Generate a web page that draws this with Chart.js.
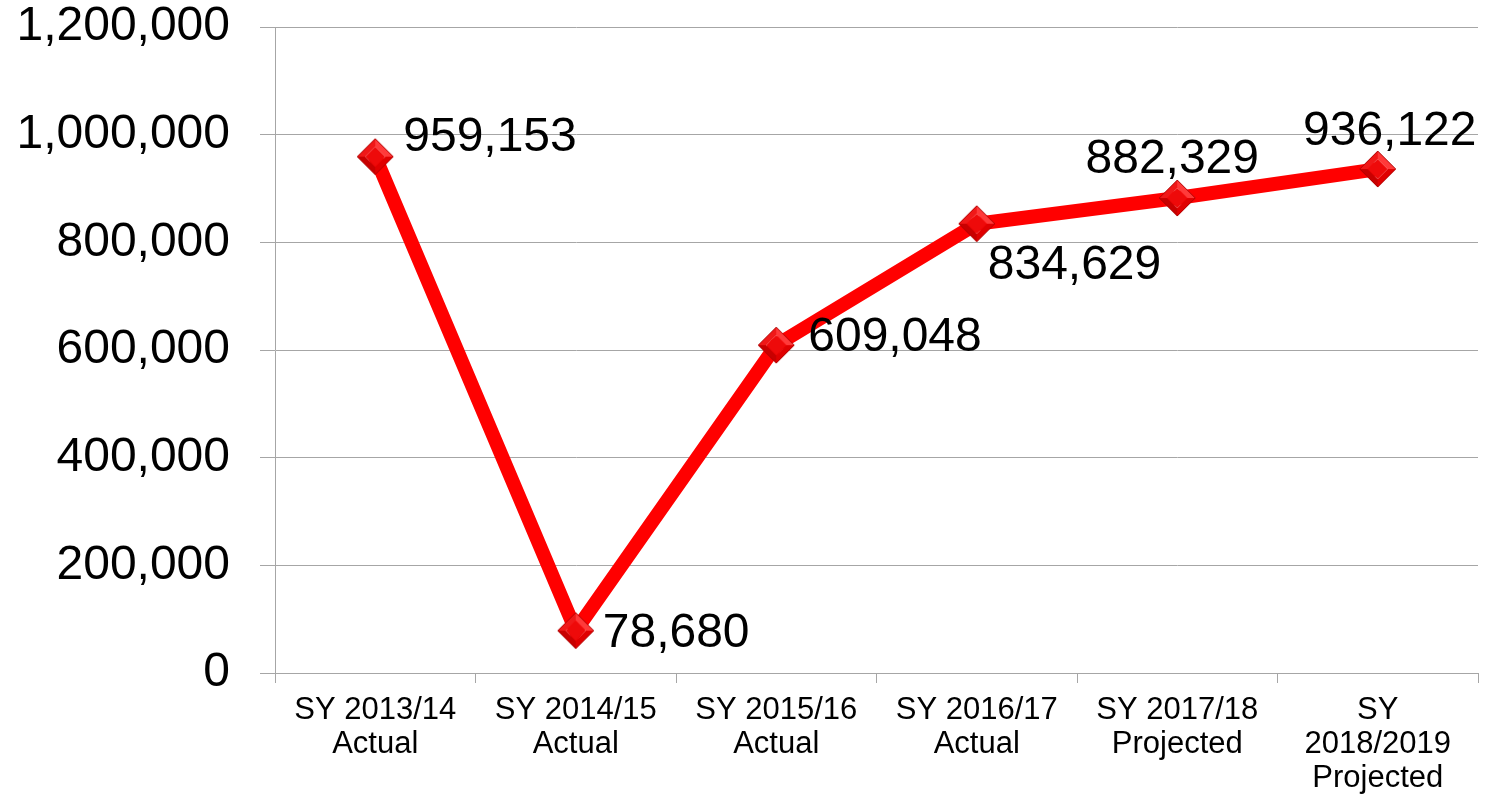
<!DOCTYPE html>
<html>
<head>
<meta charset="utf-8">
<script src="https://cdn.jsdelivr.net/npm/chart.js@4/dist/chart.umd.min.js"></script>
<style>
  html, body { margin: 0; padding: 0; background: #fff; }
  #wrap { width: 1488px; height: 799px; }
</style>
</head>
<body>
<div id="wrap"><canvas id="lineChart"></canvas></div>
<script>
// --- data ---
const categories = [
    ['SY 2013/14', 'Actual'],
    ['SY 2014/15', 'Actual'],
    ['SY 2015/16', 'Actual'],
    ['SY 2016/17', 'Actual'],
    ['SY 2017/18', 'Projected'],
    ['SY', '2018/2019', 'Projected']
];
const enrollment = [959153, 78680, 609048, 834629, 882329, 936122];
const yTicks = [0, 200000, 400000, 600000, 800000, 1000000, 1200000];

// where each value label sits relative to its point (dx, dy, align)
const labelPlacement = [
    { dx: 28, dy: -19, align: 'left' },
    { dx: 27, dy: 3, align: 'left' },
    { dx: 32, dy: -7, align: 'left' },
    { dx: 11, dy: 42, align: 'left' },
    { dx: -5, dy: -38, align: 'center' },
    { dx: 12, dy: -37, align: 'center' }
];

const gridColor = '#a6a6a6';
const mainFont = "'Liberation Sans', Arial, sans-serif";

// --- beveled diamond marker ---
function makeDiamond(r) {
    const c = document.createElement('canvas');
    c.width = c.height = r * 2 + 2;
    const g = c.getContext('2d');
    const m = r + 1;
    const inner = r * 0.55;
    const outer = [[m, m - r], [m + r, m], [m, m + r], [m - r, m]];
    const inn = [[m, m - inner], [m + inner, m], [m, m + inner], [m - inner, m]];
    const facets = ['#ff3a3a', '#e00000', '#c80000', '#f01818'];
    for (let i = 0; i < 4; i++) {
        const j = (i + 1) % 4;
        g.beginPath();
        g.moveTo(outer[i][0], outer[i][1]);
        g.lineTo(outer[j][0], outer[j][1]);
        g.lineTo(inn[j][0], inn[j][1]);
        g.lineTo(inn[i][0], inn[i][1]);
        g.closePath();
        g.fillStyle = facets[i];
        g.fill();
    }
    g.beginPath();
    inn.forEach((p, i) => i ? g.lineTo(p[0], p[1]) : g.moveTo(p[0], p[1]));
    g.closePath();
    g.fillStyle = '#ee0a0a';
    g.fill();
    g.beginPath();
    outer.forEach((p, i) => i ? g.lineTo(p[0], p[1]) : g.moveTo(p[0], p[1]));
    g.closePath();
    g.strokeStyle = '#b00000';
    g.lineWidth = 1;
    g.stroke();
    return c;
}
const diamond = makeDiamond(18);

// --- value labels next to points ---
const valueLabels = {
    id: 'valueLabels',
    afterDatasetsDraw(chart) {
        const ctx = chart.ctx;
        const meta = chart.getDatasetMeta(0);
        ctx.save();
        ctx.font = `48px ${mainFont}`;
        ctx.fillStyle = '#000';
        ctx.textBaseline = 'middle';
        meta.data.forEach((pt, i) => {
            const p = labelPlacement[i];
            ctx.textAlign = p.align;
            ctx.fillText(enrollment[i].toLocaleString('en-US'), pt.x + p.dx, pt.y + p.dy);
        });
        ctx.restore();
    }
};

// kill the automatic label overflow padding so the plot area lands where the reference has it
function noScalePadding(scale) {
    scale.paddingTop = 0;
    scale.paddingBottom = 0;
    scale.paddingLeft = 0;
    scale.paddingRight = 0;
}

new Chart(document.getElementById('lineChart'), {
    type: 'line',
    data: {
        labels: categories,
        datasets: [{
            data: enrollment,
            borderColor: '#ff0000',
            borderWidth: 14,
            tension: 0,
            clip: false,
            pointStyle: diamond,
            pointRadius: 18,
            pointHoverRadius: 18
        }]
    },
    options: {
        responsive: true,
        maintainAspectRatio: false,
        animation: false,
        events: [],
        layout: { autoPadding: false, padding: { top: 27, right: 10, left: 0, bottom: 0 } },
        plugins: {
            legend: { display: false },
            tooltip: { enabled: false }
        },
        scales: {
            x: {
                offset: true,
                grid: {
                    offset: true,
                    drawOnChartArea: false,
                    drawTicks: true,
                    tickLength: 10,
                    color: gridColor
                },
                border: { display: true, color: gridColor },
                ticks: {
                    color: '#000',
                    font: { family: mainFont, size: 31, lineHeight: 1.1 },
                    padding: 10,
                    maxRotation: 0,
                    autoSkip: false
                },
                afterFit(scale) {
                    scale.height = 126;
                    noScalePadding(scale);
                }
            },
            y: {
                min: 0,
                max: 1200000,
                afterBuildTicks(scale) { scale.ticks = yTicks.map(v => ({ value: v })); },
                grid: { color: gridColor, tickLength: 15 },
                border: { display: true, color: gridColor },
                ticks: {
                    color: '#000',
                    font: { family: mainFont, size: 48 },
                    padding: 30,
                    callback: v => v.toLocaleString('en-US')
                },
                afterFit(scale) {
                    scale.width = 275;
                    noScalePadding(scale);
                }
            }
        }
    },
    plugins: [valueLabels]
});
</script>
</body>
</html>
